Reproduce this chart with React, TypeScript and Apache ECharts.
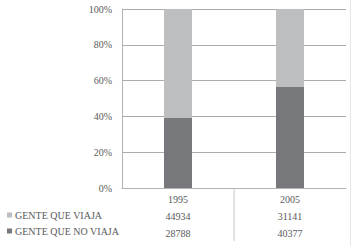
import React, { useEffect, useRef } from "react";
import * as echarts from "echarts";

const categories = ["1995", "2005"];
const seriesNames = ["GENTE QUE VIAJA", "GENTE QUE NO VIAJA"];
const viaja = [44934, 31141];
const noViaja = [28788, 40377];
const yTicks = [0, 20, 40, 60, 80, 100];

const FONT = "'Liberation Serif', 'DejaVu Serif', serif";

export default function App() {
  const ref = useRef<HTMLDivElement>(null);
  useEffect(() => {
    if (!ref.current) return;
    const chart = echarts.init(ref.current, undefined, { renderer: "svg" });
    const totals = categories.map((_, i) => viaja[i] + noViaja[i]);
    const pctNo = noViaja.map((v, i) => (v / totals[i]) * 100);
    const pctSi = viaja.map((v, i) => (v / totals[i]) * 100);
    const left = 122;
    const right = 346;
    const mid = (left + right) / 2;
    chart.setOption({
      animation: false,
      backgroundColor: "#ffffff",
      grid: { left: left, right: 351 - right, top: 9, bottom: 246 - 188 },
      legend: {
        orient: "vertical",
        left: 2,
        top: 205,
        itemWidth: 5,
        itemHeight: 5,
        itemGap: 6,
        icon: "rect",
        data: seriesNames,
        textStyle: { fontFamily: FONT, fontSize: 10, color: "#595959", padding: [0, 0, 0, -2] },
      },
      xAxis: {
        type: "category",
        data: categories,
        axisLine: { show: true, lineStyle: { color: "#b3b3b3", width: 1 } },
        axisTick: { show: false },
        axisLabel: {
          margin: 3,
          fontFamily: FONT,
          fontSize: 10,
          color: "#595959",
          lineHeight: 17,
          formatter: (val: string, idx: number) =>
            `${val}\n${viaja[idx]}\n${noViaja[idx]}`,
        },
      },
      yAxis: {
        type: "value",
        min: yTicks[0],
        max: yTicks[yTicks.length - 1],
        interval: 20,
        axisLine: { show: true, lineStyle: { color: "#b3b3b3", width: 1 } },
        axisTick: { show: false },
        axisLabel: {
          margin: 10,
          fontFamily: FONT,
          fontSize: 10,
          color: "#595959",
          formatter: "{value}%",
        },
        splitLine: { show: true, lineStyle: { color: "#acacac", width: 1 } },
      },
      series: [
        {
          name: seriesNames[1],
          type: "bar",
          stack: "total",
          data: pctNo,
          barWidth: "25%",
          itemStyle: { color: "#77787b" },
        },
        {
          name: seriesNames[0],
          type: "bar",
          stack: "total",
          data: pctSi,
          barWidth: "25%",
          itemStyle: { color: "#bdbec0" },
        },
      ],
      graphic: [
        {
          type: "line",
          shape: { x1: mid, y1: 188, x2: mid, y2: 241 },
          style: { stroke: "#c8c8c8", lineWidth: 1 },
        },
        {
          type: "line",
          shape: { x1: 350.5, y1: 0, x2: 350.5, y2: 246 },
          style: { stroke: "#e6e6e6", lineWidth: 1 },
        },
      ],
    });
    return () => chart.dispose();
  }, []);
  return <div ref={ref} style={{ width: 351, height: 246, position: "absolute", left: 0, top: 0 }} />;
}
